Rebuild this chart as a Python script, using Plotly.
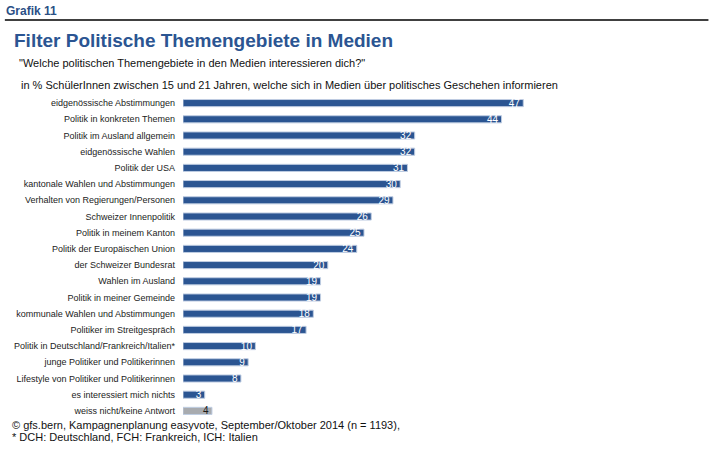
import plotly.graph_objects as go

categories = [
    "eidgenössische Abstimmungen",
    "Politik in konkreten Themen",
    "Politik im Ausland allgemein",
    "eidgenössische Wahlen",
    "Politik der USA",
    "kantonale Wahlen und Abstimmungen",
    "Verhalten von Regierungen/Personen",
    "Schweizer Innenpolitik",
    "Politik in meinem Kanton",
    "Politik der Europäischen Union",
    "der Schweizer Bundesrat",
    "Wahlen im Ausland",
    "Politik in meiner Gemeinde",
    "kommunale Wahlen und Abstimmungen",
    "Politiker im Streitgespräch",
    "Politik in Deutschland/Frankreich/Italien*",
    "junge Politiker und Politikerinnen",
    "Lifestyle von Politiker und Politikerinnen",
    "es interessiert mich nichts",
    "weiss nicht/keine Antwort",
]
values = [47, 44, 32, 32, 31, 30, 29, 26, 25, 24, 20, 19, 19, 18, 17, 10, 9, 8, 3, 4]

W, H = 713, 450
# plot area in pixels
X0, X1, Y0, Y1 = 183, 544.7, 95, 419
L, T = X0, Y0
R, B = W - X1, H - Y1
PW, PH = X1 - X0, Y1 - Y0

def px(x):
    return (x - X0) / PW

def py(y):
    return 1 - (y - Y0) / PH

BLUE = "#2b5592"
GRAY = "#a8abaf"
bar_colors = [GRAY if c == "weiss nicht/keine Antwort" else BLUE for c in categories]
text_colors = ["#1a1a1a" if c == "weiss nicht/keine Antwort" else "white" for c in categories]

fig = go.Figure(go.Bar(
    y=categories,
    x=values,
    orientation="h",
    marker=dict(color=bar_colors, line=dict(color="#bfcde2", width=1)),
    text=[str(v) for v in values],
    textposition="inside",
    insidetextanchor="end",
    textangle=0,
    constraintext="none",
    textfont=dict(family="Liberation Sans", size=10, color=text_colors),
    hoverinfo="skip",
))

fig.update_layout(
    width=W, height=H,
    margin=dict(l=L, r=R, t=T, b=B, pad=0),
    paper_bgcolor="white", plot_bgcolor="white",
    bargap=0.56,
    showlegend=False,
    xaxis=dict(range=[0, 50], visible=False, fixedrange=True),
    yaxis=dict(
        autorange="reversed", showgrid=False, zeroline=False, showline=False,
        ticks="", ticklabelstandoff=7, fixedrange=True,
        tickfont=dict(family="Liberation Sans", size=9, color="#222"),
    ),
    font=dict(family="Liberation Sans"),
)

def ann(text, x, y, size, color="#111", bold=False):
    fig.add_annotation(
        text=f"<b>{text}</b>" if bold else text,
        x=px(x), y=py(y), xref="paper", yref="paper",
        xanchor="left", yanchor="middle", showarrow=False,
        font=dict(family="Liberation Sans", size=size, color=color),
    )

ann("Grafik 11", 4, 11, 12, "#2b4f85", bold=True)
fig.add_shape(type="line", xref="paper", yref="paper",
              x0=px(5), x1=px(708), y0=py(20), y1=py(20),
              line=dict(color="black", width=1.5))
ann("Filter Politische Themengebiete in Medien", 12, 41, 19, BLUE, bold=True)
ann('"Welche politischen Themengebiete in den Medien interessieren dich?"', 17, 63, 11)
ann("in % SchülerInnen zwischen 15 und 21 Jahren, welche sich in Medien über politisches Geschehen informieren", 19, 85, 11)
ann("© gfs.bern, Kampagnenplanung easyvote, September/Oktober 2014 (n = 1193),", 10, 425, 11)
ann("* DCH: Deutschland, FCH: Frankreich, ICH: Italien", 10, 437, 11)

fig.write_html(
    "out.html",
    config={"displayModeBar": False},
    post_script="document.body.style.margin='0';document.body.style.overflow='hidden';",
)
